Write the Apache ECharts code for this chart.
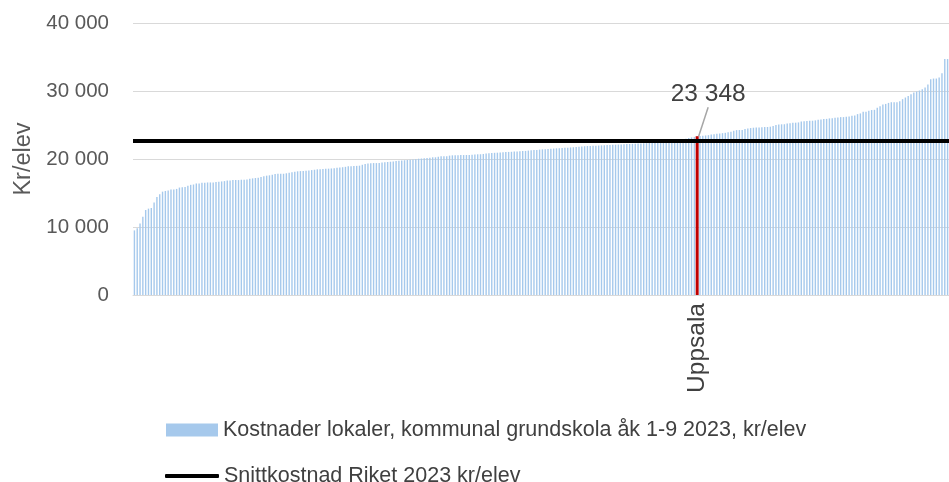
<!DOCTYPE html>
<html>
<head>
<meta charset="utf-8">
<script src="https://cdn.jsdelivr.net/npm/echarts@6/dist/echarts.min.js"></script>
<style>
  html, body { margin: 0; padding: 0; background: #fff; }
  #chart { width: 949px; height: 482px; }
</style>
</head>
<body>
<div id="chart"></div>
<script>
// kostnad per elev, sorterat stigande (290 kommuner)
const kostnader = [
  9500, 9800, 10500, 11500, 12500, 12700, 12800, 13600, 14400, 14800,
  15200, 15300, 15350, 15500, 15500, 15600, 15800, 15850, 15900, 16050,
  16200, 16250, 16400, 16400, 16500, 16500, 16550, 16550, 16550, 16600,
  16650, 16700, 16750, 16850, 16850, 16900, 16900, 16900, 16950, 16950,
  17000, 17100, 17150, 17200, 17250, 17350, 17450, 17550,
  17600, 17700, 17800, 17820, 17820, 17830, 17900, 17970, 18050, 18120,
  18190, 18220, 18250, 18280, 18300, 18370, 18420, 18480, 18510, 18530,
  18560, 18580, 18610, 18650, 18710, 18750, 18790, 18850, 18920, 18950,
  18970, 18990, 19020, 19150, 19250, 19350, 19390, 19400, 19400, 19420,
  19500, 19530, 19560, 19600, 19650, 19700, 19750, 19790, 19820, 19850,
  19890, 19920, 19980, 20040, 20070, 20100, 20130, 20190, 20250,
  20250, 20330, 20390, 20400, 20420, 20500, 20540, 20550, 20560, 20570,
  20580, 20590, 20600, 20620, 20660, 20690, 20700, 20740, 20800, 20850,
  20880, 20910, 20930, 20960, 20990, 21020, 21040, 21060, 21090, 21120,
  21140, 21160, 21190, 21240, 21280, 21310, 21340, 21380, 21420, 21440,
  21470, 21500, 21540, 21570, 21590, 21620, 21650, 21670, 21700, 21730,
  21760, 21800, 21840, 21880, 21910, 21930, 21950, 21960, 21980,
  22000, 22020, 22050, 22070, 22080, 22100, 22120, 22150, 22180, 22200,
  22210, 22230, 22250, 22270, 22290, 22310, 22330, 22350, 22370, 22400,
  22450, 22500, 22550, 22600, 22650, 22700, 22750, 22800, 22850, 22900,
  22980, 23100, 23180, 23250, 23348, 23400, 23420, 23460, 23500, 23600,
  23650, 23700, 23750, 23800, 23850,
  23930, 24010, 24160, 24250, 24260, 24270, 24400, 24500, 24550, 24600,
  24640, 24650, 24660, 24700, 24710, 24750, 24840, 24990, 25090, 25100,
  25110, 25230, 25260, 25330, 25340, 25380, 25530, 25560, 25570, 25620,
  25630, 25680, 25770, 25800, 25870, 25900, 25970, 26000, 26060, 26100,
  26160, 26160, 26200, 26250, 26350, 26400, 26600, 26700, 26940, 26940,
  27090, 27200, 27230, 27530, 27770, 28010, 28100, 28250, 28350, 28350,
  28350, 28500, 28800, 29040, 29280, 29530, 29770, 29920, 30070, 30260,
  30500, 30950, 31730, 31830, 31830, 31970, 32600, 34700, 34700
];
const markeradKommun = 'Uppsala';
const markeradIndex = 200;
const rikssnitt = 22700;
const yTicks = [0, 10000, 20000, 30000, 40000];
const staplarNamn = 'Kostnader lokaler, kommunal grundskola åk 1-9 2023, kr/elev';
const snittNamn = 'Snittkostnad Riket 2023 kr/elev';

// kategorier: bara Uppsala visas med namn
const kommuner = kostnader.map((v, i) => (i === markeradIndex ? markeradKommun : ''));
const markerad = kostnader.map((v, i) => (i === markeradIndex ? v : '-'));

function fmt(v) {
  return String(Math.round(v)).replace(/\B(?=(\d{3})+(?!\d))/g, ' ');
}

const font = 'Liberation Sans, Arial, sans-serif';
const chart = echarts.init(document.getElementById('chart'));
chart.setOption({
  animation: false,
  grid: { left: 133, right: 0, top: 23, bottom: 187 },
  legend: [
    {
      left: 166,
      top: 419,
      padding: 0,
      itemWidth: 52,
      itemHeight: 13,
      icon: 'rect',
      textStyle: { fontFamily: font, fontSize: 21.5, color: '#404040' },
      data: [staplarNamn]
    },
    {
      left: 165,
      top: 465,
      padding: 0,
      itemWidth: 54,
      itemHeight: 4,
      icon: 'roundRect',
      textStyle: { fontFamily: font, fontSize: 21.5, color: '#404040' },
      data: [snittNamn]
    }
  ],
  xAxis: [
    {
      type: 'category',
      data: kommuner,
      axisLine: { lineStyle: { color: '#D9D9D9', width: 1 } },
      axisTick: { show: false },
      axisLabel: {
        interval: 0,
        rotate: 90,
        margin: 8,
        fontFamily: font,
        fontSize: 24.5,
        color: '#404040'
      }
    },
    {
      // osynlig kopia för den markerade stapeln
      type: 'category',
      data: kommuner,
      show: false
    }
  ],
  yAxis: {
    type: 'value',
    min: yTicks[0],
    max: yTicks[yTicks.length - 1],
    interval: 10000,
    name: 'Kr/elev',
    nameLocation: 'middle',
    nameRotate: 90,
    nameGap: 97,
    nameTextStyle: { fontFamily: font, fontSize: 23.5, color: '#595959' },
    axisLine: { show: false },
    axisTick: { show: false },
    splitLine: { lineStyle: { color: '#D9D9D9', width: 1 } },
    axisLabel: {
      margin: 24,
      fontFamily: font,
      fontSize: 20.5,
      color: '#595959',
      formatter: fmt
    }
  },
  series: [
    {
      name: staplarNamn,
      type: 'bar',
      data: kostnader,
      barWidth: '50%',
      itemStyle: { color: '#A6C9EC' },
      z: 2
    },
    {
      name: snittNamn,
      type: 'line',
      data: [],
      symbol: 'none',
      lineStyle: { color: '#000', width: 4 },
      itemStyle: { color: '#000' },
      z: 3,
      markLine: {
        silent: true,
        symbol: 'none',
        label: { show: false },
        lineStyle: { color: '#000', width: 4, type: 'solid' },
        data: [{ yAxis: rikssnitt }]
      }
    },
    {
      name: markeradKommun,
      type: 'bar',
      xAxisIndex: 1,
      data: markerad,
      barWidth: 3,
      z: 4,
      itemStyle: { color: '#C00000' },
      label: {
        show: true,
        position: 'top',
        fontFamily: font,
        fontSize: 24.5,
        color: '#404040',
        formatter: p => fmt(p.value)
      },
      labelLayout: { dx: 11, dy: -24 },
      labelLine: { show: true, lineStyle: { color: '#A6A6A6', width: 1.5 } }
    }
  ]
});
</script>
</body>
</html>
